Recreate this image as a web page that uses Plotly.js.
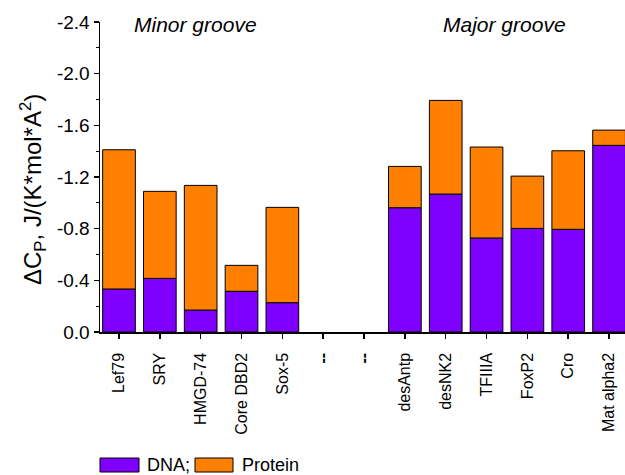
<!DOCTYPE html>
<html>
<head>
<meta charset="utf-8">
<script src="https://cdn.plot.ly/plotly-3.0.1.min.js"></script>
<style>html,body{margin:0;padding:0;background:#fff;}#chart{width:625px;height:475px;}</style>
</head>
<body>
<div id="chart"></div>
<script>
// Categories (unique keys) and displayed tick labels
const categories = ["Lef79","SRY","HMGD-74","Core DBD2","Sox-5","gap1","gap2","desAntp","desNK2","TFIIIA","FoxP2","Cro","Mat alpha2"];
const tickLabels = ["Lef79","SRY","HMGD-74","Core DBD2","Sox-5","<b>--</b>","<b>--</b>","desAntp","desNK2","TFIIIA","FoxP2","Cro","Mat alpha2"];
// ΔCp contributions, J/(K*mol*A^2)
const dnaValues     = [-0.333,-0.415,-0.170,-0.315,-0.227,null,null,-0.962,-1.068,-0.728,-0.802,-0.795,-1.445];
const proteinValues = [-1.078,-0.674,-0.965,-0.201,-0.738,null,null,-0.320,-0.725,-0.704,-0.405,-0.608,-0.118];
const seriesNames = ["DNA;","Protein"];
const yTickVals = [0,-0.4,-0.8,-1.2,-1.6,-2.0,-2.4];
const yTickLabels = ["0.0","-0.4","-0.8","-1.2","-1.6","-2.0","-2.4"];
const yMinorVals = [-0.2,-0.6,-1.0,-1.4,-1.8,-2.2];

const FONT = "Liberation Sans, Arial, sans-serif";
const purple = "#8000FF", orange = "#FF8000";

const traces = [
  {type:"bar", x:categories, y:dnaValues, name:seriesNames[0], width:0.8,
   marker:{color:purple, line:{color:"#000", width:1}}, hoverinfo:"none"},
  {type:"bar", x:categories, y:proteinValues, name:seriesNames[1], width:0.8,
   marker:{color:orange, line:{color:"#000", width:1}}, hoverinfo:"none"}
];

const W = 525, H = 310; // plot area px
function px(x){return (x-100)/W;}
function py(y){return (332-y)/H;}

const layout = {
  width:625, height:475,
  margin:{l:100, r:0, t:22, b:143},
  paper_bgcolor:"#fff", plot_bgcolor:"#fff",
  barmode:"relative",
  showlegend:false,
  font:{family:FONT, color:"#000"},
  xaxis:{
    type:"category", categoryorder:"array", categoryarray:categories,
    range:[-0.465, 12.39], tickvals:categories, ticktext:tickLabels,
    tickangle:-90, tickfont:{size:16, family:FONT, color:"#000"},
    showline:true, linecolor:"#000", linewidth:1.5,
    ticks:"outside", ticklen:5, tickwidth:1.5, tickcolor:"#000",
    showgrid:false, zeroline:false, fixedrange:true, ticklabelstandoff:8
  },
  yaxis:{
    range:[0,-2.4], autorange:false, tickvals:yTickVals, ticktext:yTickLabels,
    tickfont:{size:19, family:FONT, color:"#000"},
    showline:true, linecolor:"#000", linewidth:1.5,
    ticks:"outside", ticklen:5, tickwidth:1.5, tickcolor:"#000",
    minor:{tickvals:yMinorVals, ticks:"outside", ticklen:3, tickwidth:1, tickcolor:"#000"},
    showgrid:false, zeroline:false, fixedrange:true
  },
  shapes:[
    {type:"rect", xref:"paper", yref:"paper", x0:px(100), x1:px(139), y0:py(458), y1:py(472), fillcolor:purple, line:{color:"#000", width:1}},
    {type:"rect", xref:"paper", yref:"paper", x0:px(195), x1:px(233), y0:py(458), y1:py(472), fillcolor:orange, line:{color:"#000", width:1}}
  ],
  annotations:[
    {xref:"paper", yref:"paper", x:px(33), y:py(190), xanchor:"center", yanchor:"middle", textangle:-90,
     text:"ΔC<sub>P</sub>, J/(K*mol*A<sup>2</sup>)", showarrow:false, font:{size:24, family:FONT, color:"#000"}},
    {xref:"paper", yref:"paper", x:px(145), y:py(465), xanchor:"left", yanchor:"middle", text:seriesNames[0], showarrow:false, font:{size:18, family:FONT, color:"#000"}},
    {xref:"paper", yref:"paper", x:px(240), y:py(465), xanchor:"left", yanchor:"middle", text:seriesNames[1], showarrow:false, font:{size:18, family:FONT, color:"#000"}},
    {xref:"paper", yref:"paper", x:px(195), y:py(24), xanchor:"center", yanchor:"middle", text:"<i>Minor groove</i>", showarrow:false, font:{size:21, family:FONT, color:"#000"}},
    {xref:"paper", yref:"paper", x:px(504), y:py(24), xanchor:"center", yanchor:"middle", text:"<i>Major groove</i>", showarrow:false, font:{size:21, family:FONT, color:"#000"}}
  ]
};

Plotly.newPlot("chart", traces, layout, {displayModeBar:false, staticPlot:true});
</script>
</body>
</html>
